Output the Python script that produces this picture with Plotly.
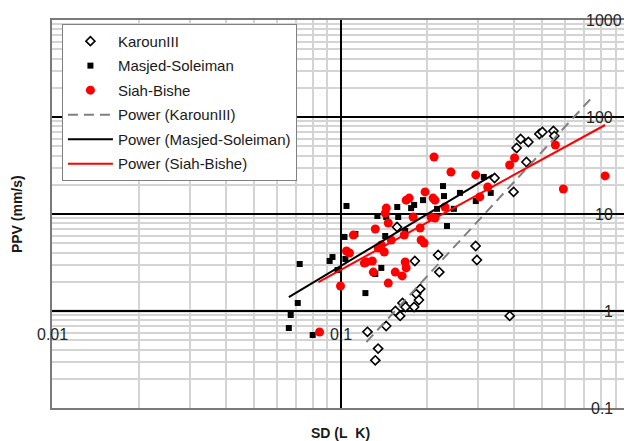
import math
import plotly.graph_objects as go

# ---- data ----
karoun_sd = [0.124, 0.135, 0.132, 0.144, 0.155, 0.161, 0.164, 0.168, 0.180, 0.183,
             0.187, 0.189, 0.181, 0.218, 0.220, 0.294, 0.297, 0.157, 0.386, 0.342,
             0.398, 0.441, 0.408, 0.421, 0.448, 0.489, 0.501, 0.547, 0.551]
karoun_ppv = [0.61, 0.41, 0.31, 0.70, 1.00, 0.89, 1.21, 1.10, 1.10, 1.50,
              1.30, 1.69, 3.28, 3.78, 2.52, 4.68, 3.36, 7.35, 0.89, 23.5,
              16.9, 34.4, 47.9, 59.3, 55.3, 66.8, 70.0, 71.7, 63.7]

masjed_sd = [0.0662, 0.0672, 0.0711, 0.0722, 0.0801, 0.0917, 0.0938, 0.0977, 0.1032, 0.1049,
             0.1126, 0.1220, 0.1320, 0.1385, 0.1342, 0.1429, 0.1441, 0.1573, 0.1676, 0.1757,
             0.1800, 0.1932, 0.2161, 0.2266, 0.2284, 0.2339, 0.2472, 0.2594, 0.2944, 0.3138,
             0.3317, 0.1040, 0.1585]
masjed_ppv = [0.668, 0.909, 1.21, 3.05, 0.566, 3.28, 3.60, 2.65, 5.80, 12.1,
              6.22, 1.53, 2.41, 2.78, 9.54, 5.93, 9.31, 11.8, 6.68, 11.5,
              12.4, 13.9, 11.3, 19.4, 15.3, 7.52, 11.3, 16.5, 13.6, 24.1,
              16.5, 3.44, 9.31]

siah_sd = [0.0846, 0.1, 0.1049, 0.1074, 0.1109, 0.1210, 0.1229, 0.1289, 0.1299, 0.1320,
           0.1352, 0.1385, 0.1418, 0.1441, 0.1429, 0.1464, 0.1464, 0.1548, 0.1636, 0.1676,
           0.1689, 0.1663, 0.1689, 0.1730, 0.1785, 0.1888, 0.1903, 0.1949, 0.1964, 0.2093,
           0.2126, 0.2060, 0.2126, 0.2302, 0.2110, 0.2414, 0.2944, 0.3040, 0.3239, 0.3857,
           0.4012, 0.5556, 0.5922, 0.8265, 0.1499]
siah_ppv = [0.608, 1.81, 4.16, 3.96, 6.08, 3.12, 3.20, 3.28, 2.52, 7.00,
            4.46, 4.79, 4.06, 11.5, 10.2, 8.08, 1.94, 2.52, 2.30, 3.20,
            2.78, 6.08, 13.9, 14.6, 9.31, 7.17, 5.40, 5.02, 16.9, 14.6,
            13.9, 9.31, 9.10, 11.8, 38.7, 27.1, 25.3, 15.0, 19.0, 32.0,
            37.8, 51.4, 18.1, 24.7, 5.40]

# power trendlines (end points)
karoun_fit_sd = [0.123, 0.758]
karoun_fit_ppv = [0.479, 168.6]
masjed_fit_sd = [0.0662, 0.337]
masjed_fit_ppv = [1.39, 25.3]
siah_fit_sd = [0.0839, 0.8265]
siah_fit_ppv = [1.99, 82.7]

x_tick_vals = [0.01, 0.1, 1]
x_tick_text = ["0.01", "0.1", "1"]
y_tick_vals = [1000, 100, 10, 1, 0.1]
y_tick_text = ["1000", "100", "10", "1", "0.1"]

FONT = "Liberation Sans, Arial, sans-serif"

fig = go.Figure()
fig.add_trace(go.Scatter(x=karoun_sd, y=karoun_ppv, mode="markers", name="KarounIII",
                         legendgroup="a",
                         marker=dict(symbol="diamond", size=7, color="white",
                                     line=dict(color="black", width=1.6))))
fig.add_trace(go.Scatter(x=masjed_sd, y=masjed_ppv, mode="markers", name="Masjed-Soleiman",
                         legendgroup="b",
                         marker=dict(symbol="square", size=6, color="black")))
fig.add_trace(go.Scatter(x=siah_sd, y=siah_ppv, mode="markers", name="Siah-Bishe",
                         legendgroup="c",
                         marker=dict(symbol="circle", size=9, color="#ff0000")))
fig.add_trace(go.Scatter(x=karoun_fit_sd, y=karoun_fit_ppv, mode="lines", name="Power (KarounIII)",
                         legendgroup="d",
                         line=dict(color="#808080", width=2, dash="10px,6px")))
fig.add_trace(go.Scatter(x=masjed_fit_sd, y=masjed_fit_ppv, mode="lines", name="Power (Masjed-Soleiman)",
                         legendgroup="e",
                         line=dict(color="black", width=2)))
fig.add_trace(go.Scatter(x=siah_fit_sd, y=siah_fit_ppv, mode="lines", name="Power (Siah-Bishe)",
                         legendgroup="f",
                         line=dict(color="#ff0000", width=2)))

axis_common = dict(type="log", showticklabels=False, ticks="", dtick=1,
                   showgrid=True, gridcolor="black", gridwidth=2,
                   showline=True, linecolor="#7a7a7a", linewidth=2, mirror=True,
                   zeroline=False,
                   minor=dict(dtick="D1", showgrid=True, gridcolor="#d4d4d4", gridwidth=1.5, ticks=""))

fig.update_xaxes(range=[-2, 0], **axis_common)
fig.update_yaxes(range=[-1, 3], **axis_common)

# horizontal axis line crossing at PPV = 1 (gray)
fig.add_shape(type="line", xref="paper", yref="y", x0=0, x1=1, y0=1, y1=1,
              line=dict(color="#8c8c8c", width=2.5), layer="between")

ann = []
for v, t in zip(x_tick_vals, x_tick_text):
    ann.append(dict(x=math.log10(v), y=-0.245, xref="x", yref="y", text=t, showarrow=False,
                    xanchor="center", yanchor="middle",
                    font=dict(family=FONT, size=16, color="#262626")))
for v, t in zip(y_tick_vals, y_tick_text):
    if t == "1000":
        ann.append(dict(x=-0.016, y=math.log10(v), xref="x", yref="y", text=t, showarrow=False,
                        xanchor="right", yanchor="middle",
                        font=dict(family=FONT, size=16, color="#262626")))
    else:
        ann.append(dict(x=-0.05, y=math.log10(v), xref="x", yref="y", text=t, showarrow=False,
                        xanchor="right", yanchor="middle",
                        font=dict(family=FONT, size=16, color="#262626")))
ann.append(dict(x=-0.0605, y=0.5, xref="paper", yref="paper", text="<b>PPV (mm/s)</b>",
                textangle=-90, showarrow=False, xanchor="center", yanchor="middle",
                font=dict(family=FONT, size=14, color="#1a1a1a")))
ann.append(dict(x=0.5, y=-0.064, xref="paper", yref="paper", text="<b>SD (L\u00a0\u00a0K)</b>",
                showarrow=False, xanchor="center", yanchor="middle",
                font=dict(family=FONT, size=14, color="#1a1a1a")))

# the page body has an 8px margin, so the figure is sized/placed to compensate
fig.update_layout(
    width=624, height=433,
    margin=dict(l=44, r=1, t=12, b=33),
    paper_bgcolor="white", plot_bgcolor="white",
    annotations=ann,
    showlegend=True,
    legend=dict(x=0.0172, y=0.99, xanchor="left", yanchor="top",
                bgcolor="white", bordercolor="#808080", borderwidth=1,
                font=dict(family=FONT, size=15, color="#1a1a1a"),
                traceorder="grouped", tracegroupgap=2, itemwidth=45),
)

fig.write_html("out.html")
